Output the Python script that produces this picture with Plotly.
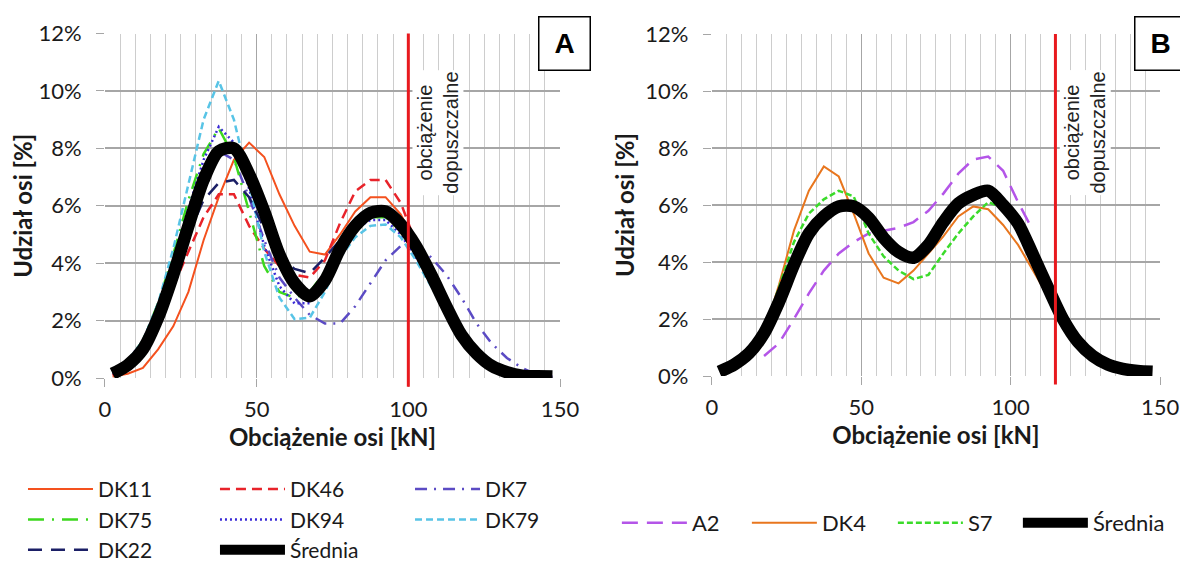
import plotly.graph_objects as go

# ---------------- data ----------------
x_a = [2.5, 7.5, 12.5, 17.5, 22.5, 27.5, 32.5, 37.5, 42.5, 47.5, 52.5, 57.5, 62.5, 67.5, 72.5,
       77.5, 82.5, 87.5, 92.5, 97.5, 102.5, 107.5, 112.5, 117.5, 122.5, 127.5, 132.5, 137.5, 142.5, 147.5]

dk11 = [0.05, 0.15, 0.35, 1.0, 1.8, 3.0, 4.8, 6.3, 7.6, 8.2, 7.7, 6.4, 5.3, 4.4, 4.3,
        5.0, 5.8, 6.3, 6.3, 5.7, 4.7, 3.5, 2.4, 1.5, 0.8, 0.35, 0.12, 0.04, 0.02, 0.01]
dk46 = [0.1, 0.4, 0.9, 1.9, 3.2, 4.4, 5.6, 6.4, 6.4, 5.3, 4.5, 3.9, 3.6, 3.5, 4.1,
        5.4, 6.5, 6.9, 6.9, 6.1, 4.7, 3.5, 2.4, 1.5, 0.8, 0.35, 0.12, 0.05, 0.02, 0.01]
dk7 = [0.2, 0.6, 1.2, 2.3, 3.8, 5.5, 7.0, 7.9, 7.6, 6.3, 4.8, 3.5, 2.8, 2.2, 1.9,
       1.9, 2.5, 3.3, 4.1, 4.6, 4.7, 4.2, 3.6, 2.8, 1.9, 1.2, 0.7, 0.35, 0.1, 0.05]
dk75 = [0.2, 0.6, 1.3, 2.6, 4.3, 6.2, 7.8, 8.7, 7.7, 5.8, 3.9, 3.0, 2.8, 3.0, 3.7,
        4.6, 5.3, 5.6, 5.6, 5.1, 4.3, 3.4, 2.4, 1.5, 0.8, 0.35, 0.12, 0.05, 0.02, 0.01]
dk94 = [0.2, 0.6, 1.3, 2.5, 4.1, 5.9, 7.6, 8.75, 8.2, 6.6, 4.6, 3.2, 2.6, 2.6, 3.4,
        4.4, 5.2, 5.5, 5.5, 5.0, 4.2, 3.3, 2.3, 1.4, 0.75, 0.3, 0.1, 0.04, 0.02, 0.01]
dk79 = [0.2, 0.6, 1.3, 2.6, 4.5, 6.8, 9.0, 10.35, 9.0, 6.8, 4.4, 2.8, 2.05, 2.1, 3.0,
        4.2, 4.9, 5.3, 5.35, 4.9, 4.1, 3.2, 2.3, 1.4, 0.7, 0.3, 0.1, 0.04, 0.02, 0.01]
dk22 = [0.15, 0.5, 1.1, 2.2, 3.6, 5.0, 6.2, 6.8, 6.9, 6.3, 5.2, 4.2, 3.8, 3.65, 4.2,
        4.8, 5.4, 5.7, 5.7, 5.2, 4.4, 3.5, 2.5, 1.6, 0.9, 0.4, 0.15, 0.06, 0.03, 0.02]
mean_a = [0.15, 0.45, 1.0, 2.1, 3.6, 5.3, 6.9, 7.9, 8.0, 7.1, 5.8, 4.3, 3.3, 2.85, 3.4,
          4.5, 5.3, 5.75, 5.8, 5.35, 4.6, 3.6, 2.5, 1.5, 0.85, 0.42, 0.2, 0.08, 0.06, 0.05]

x_b = [17.5, 22.5, 27.5, 32.5, 37.5, 42.5, 47.5, 52.5, 57.5, 62.5, 67.5, 72.5,
       77.5, 82.5, 87.5, 92.5, 97.5, 102.5, 107.5, 112.5]
a2 = [0.7, 1.15, 2.0, 2.9, 3.7, 4.3, 4.7, 5.0, 5.1, 5.2, 5.4, 5.8,
      6.4, 7.1, 7.6, 7.7, 7.2, 6.1, 5.1, None]
dk4 = [1.5, 3.2, 5.1, 6.5, 7.35, 7.0, 5.7, 4.3, 3.45, 3.25, 3.7, 4.3,
       4.9, 5.6, 5.95, 5.85, 5.3, 4.6, 3.7, 2.8]
s7 = [1.6, 3.1, 4.7, 5.7, 6.2, 6.5, 6.3, 5.0, 4.2, 3.7, 3.4, 3.55,
      4.3, 5.0, 5.6, 6.1, 5.9, 5.2, 4.1, 3.0]
x_bm = x_a
mean_b = [0.15, 0.4, 0.8, 1.5, 2.6, 3.9, 5.0, 5.6, 5.95, 5.95, 5.55, 4.85, 4.35, 4.15, 4.6,
          5.4, 6.05, 6.35, 6.5, 6.0, 5.35, 4.25, 3.1, 2.0, 1.2, 0.7, 0.4, 0.25, 0.18, 0.15]

limit_a = 100
limit_b = 115
y_ticks = [0, 2, 4, 6, 8, 10, 12]
y_labels = ["0%", "2%", "4%", "6%", "8%", "10%", "12%"]
x_ticks = [0, 50, 100, 150]

# ---------------- figure ----------------
FONT = "Lato"
TXT = "#1a1a1a"
fig = go.Figure()

def add(x, y, name, color, width, dash, xa, ya, legend, shape="linear", lw=None):
    fig.add_trace(go.Scatter(
        x=x, y=y, name=name, mode="lines", xaxis=xa, yaxis=ya,
        line=dict(color=color, width=width, dash=dash, shape=shape, smoothing=0.8),
        legend=legend, legendgroup=name + legend, legendwidth=lw, hoverinfo="skip",
        connectgaps=False))

# Panel A
add(x_a, dk11, "DK11", "#F4511E", 2, "solid", "x", "y", "legend")
add(x_a, dk46, "DK46", "#E8232A", 2.5, "10px,6px", "x", "y", "legend2")
add(x_a, dk7, "DK7", "#5B4BC4", 2.5, "12px,7px,2px,7px", "x", "y", "legend3")
add(x_a, dk75, "DK75", "#3CD81E", 2.5, "16px,8px,2px,8px", "x", "y", "legend")
add(x_a, dk94, "DK94", "#3A2BD6", 2.5, "2px,3px", "x", "y", "legend2")
add(x_a, dk79, "DK79", "#58C4E6", 2.5, "7px,4px", "x", "y", "legend3")
add(x_a, dk22, "DK22", "#1B1F66", 2.5, "14px,9px", "x", "y", "legend")
add(x_a, mean_a, "Średnia", "#000000", 12.5, "solid", "x", "y", "legend2", shape="spline")

# Panel B
add(x_b, a2, "A2", "#B455E8", 2.5, "16px,9px", "x2", "y2", "legend4", lw=50)
add(x_b, dk4, "DK4", "#E8761E", 2, "solid", "x2", "y2", "legend4", lw=66)
add(x_b, s7, "S7", "#3BDB2A", 2.5, "6px,3px", "x2", "y2", "legend4", lw=45)
add(x_bm, mean_b, "Średnia", "#000000", 12.5, "solid", "x2", "y2", "legend4",
    shape="spline", lw=85)

xa_common = dict(
    range=[0, 150], tickvals=x_ticks, ticks="outside", ticklen=8, tickcolor="#a6a6a6",
    showgrid=True, gridcolor="#a6a6a6", gridwidth=1.3, zeroline=False, showline=False,
    minor=dict(dtick=5, showgrid=True, gridcolor="#cdcdcd", gridwidth=1, ticks=""),
    tickfont=dict(family=FONT, size=22, color=TXT), ticklabelstandoff=4,
    title=dict(text="<b>Obciążenie osi [kN]</b>", font=dict(family=FONT, size=24, color=TXT),
               standoff=5),
    automargin=False, fixedrange=True,
)
ya_common = dict(
    range=[0, 12], tickvals=y_ticks, ticktext=y_labels, ticks="outside", ticklen=8,
    tickcolor="#a6a6a6", showgrid=True, gridcolor="#a6a6a6", gridwidth=1.5,
    zeroline=False, showline=False, ticklabelstandoff=10,
    tickfont=dict(family=FONT, size=22, color=TXT),
    title=dict(text="<b>Udział osi [%]</b>", font=dict(family=FONT, size=24, color=TXT),
               standoff=3),
    automargin=False, fixedrange=True,
)

# the page adds an 8 px body margin, so the figure is 8 px smaller than the window
fig.update_layout(
    width=1180, height=557, margin=dict(l=0, r=0, t=0, b=0, autoexpand=False),
    paper_bgcolor="white", plot_bgcolor="white", showlegend=True,
    xaxis=dict(domain=[0.0822, 0.4678], anchor="y", **xa_common),
    yaxis=dict(domain=[0.3357, 0.9542], anchor="x", **ya_common),
    xaxis2=dict(domain=[0.5964, 0.9763], anchor="y2", **xa_common),
    yaxis2=dict(domain=[0.3393, 0.9533], anchor="x2", **ya_common),
)

leg_font = dict(family=FONT, size=21, color=TXT)
leg_base = dict(orientation="v", xanchor="left", yanchor="top", itemwidth=65,
                tracegroupgap=0, bgcolor="rgba(0,0,0,0)", font=leg_font,
                itemclick=False, itemdoubleclick=False)
fig.update_layout(
    legend=dict(x=0.0127, y=0.1724, **leg_base),
    legend2=dict(x=0.1754, y=0.1724, **leg_base),
    legend3=dict(x=0.3407, y=0.1724, **leg_base),
    legend4=dict(x=0.516, y=0.1131, orientation="h", xanchor="left", yanchor="top",
                 itemwidth=65, bgcolor="rgba(0,0,0,0)", font=dict(family=FONT, size=22, color=TXT),
                 itemclick=False, itemdoubleclick=False),
)

# permissible load lines
for xr, lim in (("x", limit_a), ("x2", limit_b)):
    yd = "y domain" if xr == "x" else "y2 domain"
    fig.add_shape(type="line", xref=xr, yref=yd, x0=lim, x1=lim, y0=-0.025, y1=1,
                  line=dict(color="#E8191E", width=3), layer="above")
    fig.add_annotation(xref=xr, yref=yd, x=lim, y=0.713, xanchor="left", yanchor="middle",
                       xshift=4, text="obciążenie<br>dopuszczalne", textangle=-90,
                       showarrow=False, bgcolor="white",
                       font=dict(family="Liberation Sans", size=20, color="#222"))

# panel letters
for xp, letter in ((0.472, "A"), (0.9763, "B")):
    fig.add_annotation(xref="paper", yref="paper", x=xp, y=0.937,
                       xanchor="center", yanchor="middle", text="<b>%s</b>" % letter,
                       showarrow=False, bgcolor="white", bordercolor="#000",
                       borderwidth=1.5, width=48, height=50,
                       font=dict(family="Liberation Sans", size=28, color="#000"))

fig.write_html("out.html")
